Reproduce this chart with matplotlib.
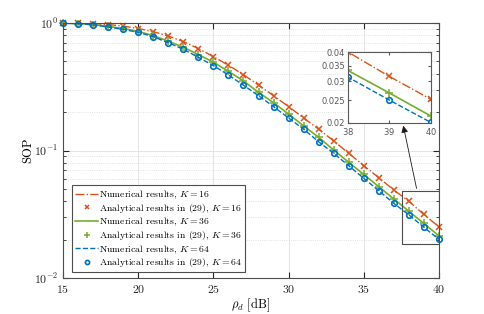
import numpy as np
import matplotlib
matplotlib.use('Agg')
import matplotlib.pyplot as plt
from matplotlib.ticker import FixedLocator, NullFormatter, NullLocator
from matplotlib.patches import Rectangle

plt.rcParams['font.family'] = 'cmr10'
plt.rcParams['mathtext.fontset'] = 'cm'
plt.rcParams['axes.unicode_minus'] = False
plt.rcParams['axes.formatter.use_mathtext'] = True

# data (SOP vs rho_d)
rho_d = list(range(15, 41))
sop_k16 = [0.998, 0.996, 0.988, 0.972, 0.945, 0.905, 0.855, 0.79, 0.715, 0.63,
           0.545, 0.466, 0.393, 0.326, 0.269, 0.221, 0.180, 0.147, 0.119, 0.0951,
           0.0760, 0.0612, 0.0490, 0.0400, 0.0315, 0.0252]
sop_k36 = [0.997, 0.99, 0.97, 0.94, 0.905, 0.86, 0.795, 0.72, 0.645, 0.565,
           0.492, 0.418, 0.351, 0.286, 0.237, 0.193, 0.156, 0.127, 0.101, 0.0808,
           0.0650, 0.0520, 0.0417, 0.0334, 0.0268, 0.0214]
sop_k64 = [0.996, 0.988, 0.966, 0.93, 0.89, 0.845, 0.781, 0.700, 0.622, 0.538,
           0.463, 0.391, 0.325, 0.269, 0.221, 0.180, 0.147, 0.117, 0.0951, 0.0760,
           0.0605, 0.0484, 0.0385, 0.0313, 0.0250, 0.0201]
k_vals = [16, 36, 64]

c_org = '#D95319'
c_grn = '#77AC30'
c_blu = '#0072BD'

fig = plt.figure(figsize=(4.85, 3.14), dpi=100)
ax = fig.add_axes([0.13, 0.1146, 0.775, 0.8122])

ax.plot(rho_d, sop_k16, '-.', color=c_org, lw=1.0, label=r'Numerical results, $K=%d$' % k_vals[0])
ax.plot(rho_d, sop_k16, 'x', color=c_org, ms=4.5, mew=1.1, clip_on=False,
        label=r'Analytical results in (29), $K=%d$' % k_vals[0])
ax.plot(rho_d, sop_k36, '-', color=c_grn, lw=1.2, label=r'Numerical results, $K=%d$' % k_vals[1])
ax.plot(rho_d, sop_k36, '+', color=c_grn, ms=6, mew=1.1, clip_on=False,
        label=r'Analytical results in (29), $K=%d$' % k_vals[1])
ax.plot(rho_d, sop_k64, '--', color=c_blu, lw=1.0, label=r'Numerical results, $K=%d$' % k_vals[2])
ax.plot(rho_d, sop_k64, 'o', color=c_blu, ms=4, mew=1.2, mfc='none', clip_on=False,
        label=r'Analytical results in (29), $K=%d$' % k_vals[2])

ax.set_yscale('log')
ax.set_xlim(15, 40)
ax.set_ylim(1e-2, 1)
ax.set_xticks([15, 20, 25, 30, 35, 40])
ax.tick_params(which='both', direction='in', top=True, right=True, labelsize=8.5, colors='0.15')
ax.tick_params(which='major', length=4)
ax.tick_params(which='minor', length=2)
ax.grid(True, which='major', color='0.88', lw=0.6)
ax.grid(True, which='minor', axis='y', color='0.85', lw=0.6, ls=':')
for s in ax.spines.values():
    s.set_color('0.3')
    s.set_linewidth(0.8)
ax.set_xlabel(r'$\rho_d$ [dB]', fontsize=9, labelpad=1)
ax.set_ylabel('SOP', fontsize=9, labelpad=0)

leg = ax.legend(loc='lower left', bbox_to_anchor=(0.025, 0.022), borderaxespad=0,
                fontsize=7, handlelength=2.3, handletextpad=0.1, labelspacing=0.1,
                borderpad=0.3, fancybox=False, framealpha=1, markerscale=0.75)
leg.get_frame().set_edgecolor('0.3')
leg.get_frame().set_linewidth(0.8)

# zoom box in main axes
ax.add_patch(Rectangle((37.56, 0.0184), 40 - 37.56, 0.048 - 0.0184, fill=False,
                       ec='0.3', lw=0.8, zorder=5))

# inset
axins = fig.add_axes([0.7175, 0.6083, 0.171, 0.226])
axins.plot(rho_d, sop_k16, '-.x', color=c_org, lw=1.0, ms=4.5, mew=1.1)
axins.plot(rho_d, sop_k36, '-+', color=c_grn, lw=1.2, ms=6, mew=1.1)
axins.plot(rho_d, sop_k64, '--o', color=c_blu, lw=1.0, ms=4, mew=1.2, mfc='none')
axins.set_yscale('log')
axins.set_xlim(38, 40)
axins.set_ylim(0.02, 0.04)
axins.set_xticks([38, 39, 40])
axins.yaxis.set_major_locator(FixedLocator([0.02, 0.025, 0.03, 0.035, 0.04]))
axins.set_yticklabels(['0.02', '0.025', '0.03', '0.035', '0.04'])
axins.yaxis.set_minor_locator(NullLocator())
axins.yaxis.set_minor_formatter(NullFormatter())
axins.tick_params(direction='in', top=True, right=True, length=2.5, labelsize=6,
                  colors='0.35', pad=2)
for lab in axins.get_xticklabels() + axins.get_yticklabels():
    lab.set_family('DejaVu Sans')
for s in axins.spines.values():
    s.set_color('0.35')
    s.set_linewidth(0.8)

# arrow from zoom box up to the inset
ax.annotate('', xy=(0.66, 0.0), xycoords=axins.transAxes,
            xytext=(38.55, 0.048), textcoords='data',
            arrowprops=dict(arrowstyle='-|>', color='0.1', lw=0.6, mutation_scale=10))

fig.savefig('out.png', dpi=100)
